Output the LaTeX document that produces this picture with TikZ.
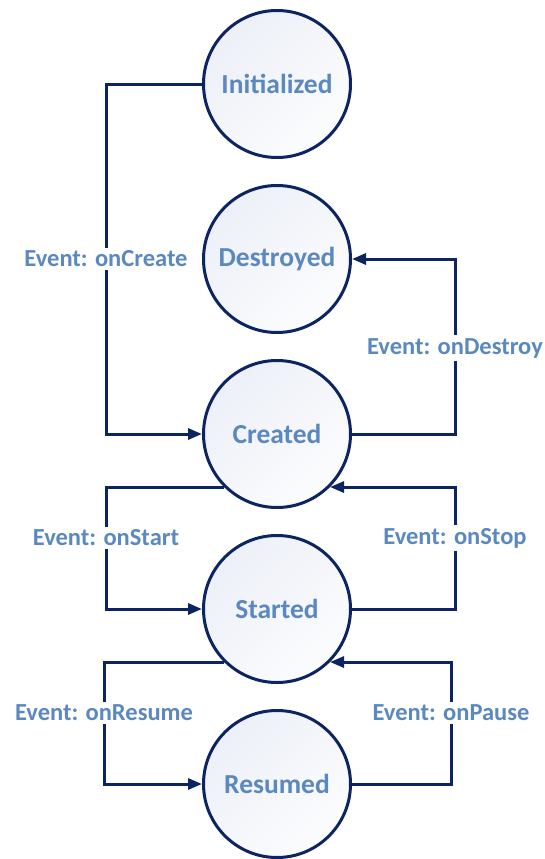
\documentclass[tikz,border=0pt]{standalone}
\usepackage{fontspec}
\setmainfont{Carlito}
\usetikzlibrary{arrows.meta, shadings}
\definecolor{navy}{HTML}{0C2461}
\definecolor{steel}{HTML}{5B88BE}
\definecolor{pale}{HTML}{E9EDF6}

\begin{document}
\begin{tikzpicture}[x=1pt, y=-1pt, >={Triangle[length=14pt,width=11pt]}]

\tikzset{state/.style={circle, draw=navy, line width=3pt, minimum size=147pt, inner sep=0pt,
    upper left=pale, upper right=pale!50!white, lower left=pale!50!white, lower right=white,
    text=steel, font=\bfseries\fontsize{27.5}{30}\selectfont},
  event/.style={fill=white, text=steel, inner sep=3pt, font=\bfseries\fontsize{24.5}{28}\selectfont},
  trans/.style={draw=navy, line width=3pt, ->}}

\useasboundingbox (0,0) rectangle (545,859);

% states
\node[state] (init)      at (277,84)  {Initialized};
\node[state] (destroyed) at (277,259) {Destroyed};
\node[state] (created)   at (277,434) {Created};
\node[state] (started)   at (277,609) {Started};
\node[state] (resumed)   at (277,784) {Resumed};

% bends of the connectors
\coordinate (oncreate)  at (106,259);
\coordinate (ondestroy) at (455,348);
\coordinate (onstart)   at (106,538);
\coordinate (onstop)    at (455,538);
\coordinate (onresume)  at (104,713);
\coordinate (onpause)   at (451,713);

% transitions
\draw[trans] (init.west) -| (oncreate) |- (created.west);
\draw[trans] (created.east) -| (ondestroy) |- (destroyed.east);
\draw[trans] (created.south west) -| (onstart) |- (started.west);
\draw[trans] (started.east) -| (onstop) |- (created.south east);
\draw[trans] (started.south west) -| (onresume) |- (resumed.west);
\draw[trans] (resumed.east) -| (onpause) |- (started.south east);

% labels
\node[event] (lblcreate)  at (oncreate)  {Event: onCreate};
\node[event] (lbldestroy) at (ondestroy) {Event: onDestroy};
\node[event] (lblstart)   at (onstart)   {Event: onStart};
\node[event] (lblstop)    at (onstop)    {Event: onStop};
\node[event] (lblresume)  at (onresume)  {Event: onResume};
\node[event] (lblpause)   at (onpause)   {Event: onPause};

\end{tikzpicture}
\end{document}
